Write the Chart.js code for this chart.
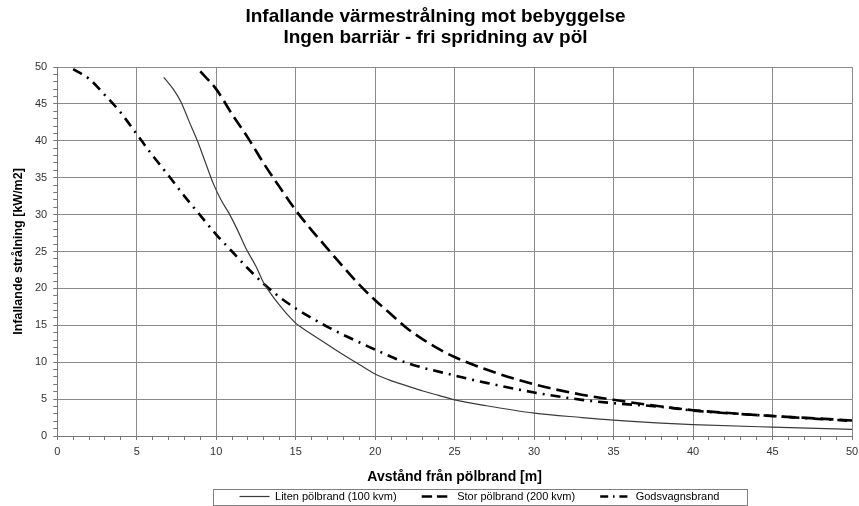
<!DOCTYPE html>
<html>
<head>
<meta charset="utf-8">
<script src="https://cdn.jsdelivr.net/npm/chart.js@4"></script>
<style>
html,body{margin:0;padding:0;background:#fff;}
#wrap{width:859px;height:506px;}
</style>
</head>
<body>
<div id="wrap"><canvas id="c" width="859" height="506"></canvas></div>
<script>
const titleLines = ["Infallande värmestrålning mot bebyggelse", "Ingen barriär - fri spridning av pöl"];
const xAxisTitle = "Avstånd från pölbrand [m]";
const yAxisTitle = "Infallande strålning [kW/m2]";
const seriesNames = ["Liten pölbrand (100 kvm)", "Stor pölbrand (200 kvm)", "Godsvagnsbrand"];

const litenX = [6.7, 7.3, 7.8, 8.3, 8.8, 9.3, 9.8, 10.3, 10.8, 11.3, 11.9, 12.5, 13.0, 13.5, 14.0, 14.5, 15.0, 15.5, 16, 17, 18, 19, 20, 21, 22, 23, 24, 25, 27, 30, 33, 35, 38, 40, 45, 50];
const litenY = [48.6, 47.0, 45.2, 42.6, 40.1, 37.2, 34.3, 32.0, 30.2, 28.1, 25.3, 23.0, 20.7, 19.1, 17.7, 16.4, 15.3, 14.5, 13.8, 12.4, 11.0, 9.7, 8.4, 7.5, 6.8, 6.1, 5.5, 4.9, 4.1, 3.1, 2.5, 2.15, 1.75, 1.55, 1.2, 0.9];

const storX = [9.0, 10.0, 11, 12, 13, 14, 15, 16, 17, 18, 19, 20, 21, 22, 23, 24, 25, 27, 30, 33, 35, 38, 40, 42, 45, 48, 50];
const storY = [49.4, 47.0, 43.6, 40.4, 36.9, 33.7, 30.6, 27.9, 25.4, 22.9, 20.5, 18.4, 16.5, 14.6, 13.1, 11.8, 10.7, 9.0, 7.0, 5.6, 4.9, 4.0, 3.5, 3.15, 2.7, 2.35, 2.1];

const godsX = [1.0, 2, 3, 4, 5, 6, 7, 8, 9, 10, 11, 12, 13, 14, 15, 16, 17, 18, 19, 20, 22, 25, 27, 30, 33, 35, 38, 40, 45, 50];
const godsY = [49.7, 48.4, 46.2, 43.8, 40.9, 38.0, 35.3, 32.5, 29.9, 27.3, 25.0, 22.7, 20.6, 18.8, 17.3, 16.0, 14.8, 13.7, 12.7, 11.7, 9.9, 8.2, 7.2, 5.9, 4.9, 4.45, 3.95, 3.45, 2.7, 2.05];

const xMin = 0, xMax = 50, yMin = 0, yMax = 50, majorStep = 5, minorStep = 1;

function pts(xs, ys){ return xs.map((x,i)=>({x:x, y:ys[i]})); }

const FONT = "'Liberation Sans', Arial, sans-serif";

const legendBox = {
  id: 'legendBox',
  afterLayout(chart){
    const t = chart.titleBlock;
    if (t) { t.left += 4; t.right += 4; }
    const lg = chart.legend;
    if (lg) { lg.left += 48; lg.right += 48; }
  },
  afterDraw(chart){
    const lg = chart.legend;
    if(!lg || !lg.legendHitBoxes || !lg.legendHitBoxes.length) return;
    let l = Infinity, r = -Infinity, t = Infinity, b = -Infinity;
    lg.legendHitBoxes.forEach(h=>{ l=Math.min(l,h.left); r=Math.max(r,h.left+h.width); t=Math.min(t,h.top); b=Math.max(b,h.top+h.height); });
    const ctx = chart.ctx;
    ctx.save();
    ctx.strokeStyle = '#7f7f7f';
    ctx.lineWidth = 1;
    ctx.strokeRect(Math.round(l-27)+0.5, Math.round(t-2)+0.5, Math.round(r-l+54), Math.round(b-t+5));
    ctx.restore();
  }
};

const tickFont = {family: FONT, size: 11};

new Chart(document.getElementById('c'), {
  type: 'line',
  data: {
    datasets: [
      {label: seriesNames[0], data: pts(litenX, litenY), borderColor: '#3a3a3a', backgroundColor: '#3a3a3a', borderWidth: 1.2, pointRadius: 0, cubicInterpolationMode: 'monotone', fill: false},
      {label: seriesNames[1], data: pts(storX, storY), borderColor: '#000', backgroundColor: '#000', borderWidth: 2.6, borderDash: [13, 6], pointRadius: 0, cubicInterpolationMode: 'monotone', fill: false},
      {label: seriesNames[2], data: pts(godsX, godsY), borderColor: '#000', backgroundColor: '#000', borderWidth: 2.6, borderDash: [10, 6, 2, 6], pointRadius: 0, cubicInterpolationMode: 'monotone', fill: false}
    ]
  },
  options: {
    responsive: false,
    devicePixelRatio: 1,
    animation: false,
    layout: {padding: {left: 4, right: 0, top: 0, bottom: -6}},
    plugins: {
      title: {display: true, text: titleLines, color: '#000', font: {family: FONT, size: 19, weight: 'bold', lineHeight: 1.1}, padding: {top: 6.5, bottom: 18.7}},
      legend: {
        position: 'bottom',
        labels: {
          color: '#000',
          font: {family: FONT, size: 11},
          usePointStyle: true,
          pointStyle: 'line',
          pointStyleWidth: 30,
          boxHeight: 6,
          padding: 25,
          generateLabels(chart){
            const items = Chart.defaults.plugins.legend.labels.generateLabels(chart);
            items.forEach((it, i) => {
              const ds = chart.data.datasets[i];
              it.lineDash = (ds.borderDash || []).map(v => v * 0.8);
              it.lineWidth = ds.borderWidth;
              it.strokeStyle = ds.borderColor;
              it.pointStyle = 'line';
            });
            return items;
          }
        }
      },
      tooltip: {enabled: false}
    },
    scales: {
      x: {
        type: 'linear', min: xMin, max: xMax,
        afterFit: s => { s.paddingRight = 7; },
        ticks: {stepSize: minorStep, autoSkip: false, maxRotation: 0, color: '#333', font: tickFont, padding: 5,
          callback: v => (v % majorStep === 0 ? String(v) : '')},
        grid: {color: c => (c.tick && c.tick.value % majorStep === 0 ? '#8a8a8a' : 'rgba(0,0,0,0)'), tickColor: '#777', tickLength: 4, lineWidth: 1},
        border: {color: '#777', width: 1},
        title: {display: true, text: xAxisTitle, color: '#000', font: {family: FONT, size: 14, weight: 'bold'}, padding: {top: 6, bottom: -20}}
      },
      y: {
        type: 'linear', min: yMin, max: yMax,
        ticks: {stepSize: minorStep, autoSkip: false, color: '#333', font: tickFont, padding: 6,
          callback: v => (v % majorStep === 0 ? String(v) : '')},
        grid: {color: c => (c.tick && c.tick.value % majorStep === 0 ? '#8a8a8a' : 'rgba(0,0,0,0)'), tickColor: '#777', tickLength: 4, lineWidth: 1},
        border: {color: '#777', width: 1},
        title: {display: true, text: yAxisTitle, color: '#000', font: {family: FONT, size: 12.5, weight: 'bold'}, padding: {top: 7, bottom: 3}}
      }
    }
  },
  plugins: [legendBox]
});
</script>
</body>
</html>
